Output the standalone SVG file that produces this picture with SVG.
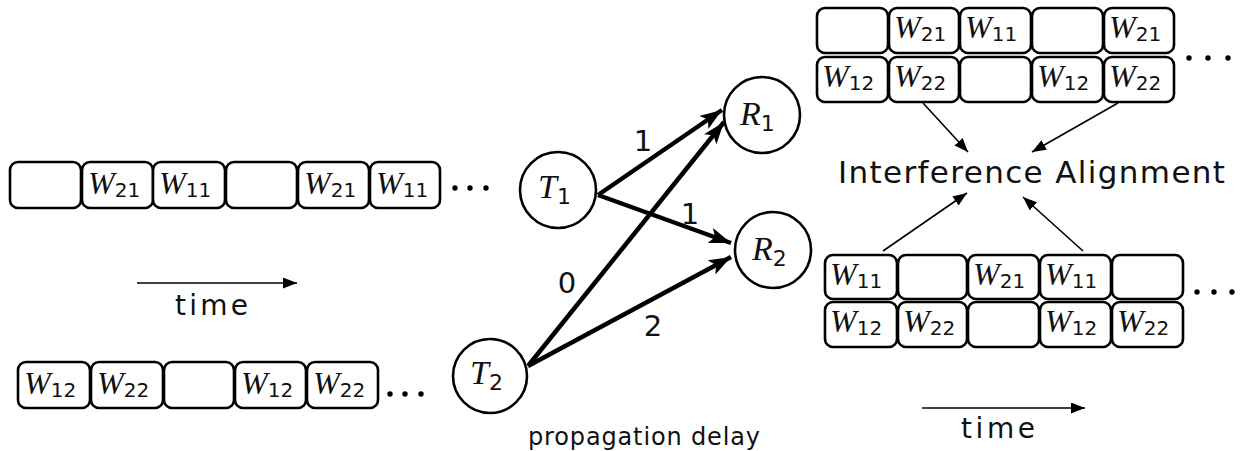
<svg xmlns="http://www.w3.org/2000/svg" width="1248" height="451" viewBox="0 0 1248 451">
<style>
.box{fill:#fff;stroke:#000;stroke-width:2.6}
.node{fill:#fff;stroke:#000;stroke-width:2.6}
.w{font-family:"Liberation Serif",serif;font-style:italic;font-size:32px;fill:#111}
.sub{font-family:"DejaVu Sans",sans-serif;font-style:normal;font-size:20px}
.lab{font-family:"DejaVu Sans",sans-serif;font-size:29px;fill:#111}
.txt{font-family:"DejaVu Sans",sans-serif;font-size:28px;fill:#111}
.heavy{stroke:#000;stroke-width:4.5;fill:none}
.thin{stroke:#000;stroke-width:1.6;fill:none}
.dot{fill:#000}
</style>
<defs>
<marker id="big" markerUnits="userSpaceOnUse" markerWidth="24" markerHeight="18" refX="22" refY="8" orient="auto">
<path d="M0,0 L22,8 L0,16 L5,8 z" fill="#000"/>
</marker>
<marker id="small" markerUnits="userSpaceOnUse" markerWidth="16" markerHeight="12" refX="14" refY="5.5" orient="auto">
<path d="M0,0 L14,5.5 L0,11 z" fill="#000"/>
</marker>
</defs>

<g id="row-t1">
<rect class="box" x="10" y="162" width="71" height="46" rx="8"/>
<rect class="box" x="82" y="162" width="71" height="46" rx="8"/>
<rect class="box" x="153" y="162" width="72" height="46" rx="8"/>
<rect class="box" x="226" y="162" width="71" height="46" rx="8"/>
<rect class="box" x="298" y="162" width="71" height="46" rx="8"/>
<rect class="box" x="370" y="162" width="70" height="46" rx="8"/>
<text class="w" x="88" y="194">W<tspan class="sub" dy="3">21</tspan></text>
<text class="w" x="159" y="194">W<tspan class="sub" dy="3">11</tspan></text>
<text class="w" x="304" y="194">W<tspan class="sub" dy="3">21</tspan></text>
<text class="w" x="376" y="194">W<tspan class="sub" dy="3">11</tspan></text>
<circle class="dot" cx="455" cy="188" r="2.7"/>
<circle class="dot" cx="470" cy="188" r="2.7"/>
<circle class="dot" cx="486" cy="188" r="2.7"/>
</g>

<g id="row-t2">
<rect class="box" x="18" y="362" width="72" height="46" rx="8"/>
<rect class="box" x="91" y="362" width="72" height="46" rx="8"/>
<rect class="box" x="164" y="362" width="70" height="46" rx="8"/>
<rect class="box" x="235" y="362" width="71" height="46" rx="8"/>
<rect class="box" x="307" y="362" width="71" height="46" rx="8"/>
<text class="w" x="24" y="394">W<tspan class="sub" dy="3">12</tspan></text>
<text class="w" x="97" y="394">W<tspan class="sub" dy="3">22</tspan></text>
<text class="w" x="241" y="394">W<tspan class="sub" dy="3">12</tspan></text>
<text class="w" x="313" y="394">W<tspan class="sub" dy="3">22</tspan></text>
<circle class="dot" cx="390" cy="394" r="2.7"/>
<circle class="dot" cx="405" cy="394" r="2.7"/>
<circle class="dot" cx="421" cy="394" r="2.7"/>
</g>

<g id="grid-r1">
<rect class="box" x="817" y="8" width="71" height="45" rx="8"/>
<rect class="box" x="889" y="8" width="70" height="45" rx="8"/>
<rect class="box" x="960" y="8" width="71" height="45" rx="8"/>
<rect class="box" x="1032" y="8" width="71" height="45" rx="8"/>
<rect class="box" x="1104" y="8" width="70" height="45" rx="8"/>
<rect class="box" x="817" y="57" width="71" height="45" rx="8"/>
<rect class="box" x="889" y="57" width="70" height="45" rx="8"/>
<rect class="box" x="960" y="57" width="71" height="45" rx="8"/>
<rect class="box" x="1032" y="57" width="71" height="45" rx="8"/>
<rect class="box" x="1104" y="57" width="70" height="45" rx="8"/>
<text class="w" x="894" y="38">W<tspan class="sub" dy="3">21</tspan></text>
<text class="w" x="965" y="38">W<tspan class="sub" dy="3">11</tspan></text>
<text class="w" x="1109" y="38">W<tspan class="sub" dy="3">21</tspan></text>
<text class="w" x="822" y="87">W<tspan class="sub" dy="3">12</tspan></text>
<text class="w" x="894" y="87">W<tspan class="sub" dy="3">22</tspan></text>
<text class="w" x="1037" y="87">W<tspan class="sub" dy="3">12</tspan></text>
<text class="w" x="1109" y="87">W<tspan class="sub" dy="3">22</tspan></text>
<circle class="dot" cx="1189" cy="58" r="2.7"/>
<circle class="dot" cx="1208" cy="58" r="2.7"/>
<circle class="dot" cx="1228" cy="58" r="2.7"/>
</g>

<g id="grid-r2">
<rect class="box" x="825" y="255" width="72" height="44" rx="8"/>
<rect class="box" x="898" y="255" width="69" height="44" rx="8"/>
<rect class="box" x="968" y="255" width="71" height="44" rx="8"/>
<rect class="box" x="1040" y="255" width="71" height="44" rx="8"/>
<rect class="box" x="1112" y="255" width="71" height="44" rx="8"/>
<rect class="box" x="825" y="302" width="72" height="45" rx="8"/>
<rect class="box" x="898" y="302" width="69" height="45" rx="8"/>
<rect class="box" x="968" y="302" width="71" height="45" rx="8"/>
<rect class="box" x="1040" y="302" width="71" height="45" rx="8"/>
<rect class="box" x="1112" y="302" width="71" height="45" rx="8"/>
<text class="w" x="830" y="285">W<tspan class="sub" dy="3">11</tspan></text>
<text class="w" x="973" y="285">W<tspan class="sub" dy="3">21</tspan></text>
<text class="w" x="1045" y="285">W<tspan class="sub" dy="3">11</tspan></text>
<text class="w" x="830" y="332">W<tspan class="sub" dy="3">12</tspan></text>
<text class="w" x="903" y="332">W<tspan class="sub" dy="3">22</tspan></text>
<text class="w" x="1045" y="332">W<tspan class="sub" dy="3">12</tspan></text>
<text class="w" x="1117" y="332">W<tspan class="sub" dy="3">22</tspan></text>
<circle class="dot" cx="1197" cy="292" r="2.7"/>
<circle class="dot" cx="1214" cy="292" r="2.7"/>
<circle class="dot" cx="1232" cy="292" r="2.7"/>
</g>

<g id="connectors">
<line class="heavy" x1="598" y1="195" x2="722" y2="110" marker-end="url(#big)"/>
<line class="heavy" x1="598" y1="195" x2="731" y2="243" marker-end="url(#big)"/>
<line class="heavy" x1="528" y1="366" x2="724" y2="122" marker-end="url(#big)"/>
<line class="heavy" x1="528" y1="366" x2="731" y2="257" marker-end="url(#big)"/>
<line class="thin" x1="923" y1="103" x2="968" y2="152" marker-end="url(#small)"/>
<line class="thin" x1="1118" y1="103" x2="1032" y2="152" marker-end="url(#small)"/>
<line class="thin" x1="883" y1="251" x2="967" y2="193" marker-end="url(#small)"/>
<line class="thin" x1="1083" y1="251" x2="1023" y2="197" marker-end="url(#small)"/>
<line class="thin" x1="137" y1="283" x2="297" y2="283" marker-end="url(#small)"/>
<line class="thin" x1="922" y1="408" x2="1085" y2="408" marker-end="url(#small)"/>
</g>

<g id="T1">
<circle class="node" cx="558" cy="190" r="38"/>
<text class="w" x="538" y="198" style="font-size:34px">T<tspan class="sub" dy="6" style="font-size:22px">1</tspan></text>
</g>
<g id="T2">
<circle class="node" cx="490" cy="376" r="37"/>
<text class="w" x="470" y="384" style="font-size:34px">T<tspan class="sub" dy="6" style="font-size:22px">2</tspan></text>
</g>
<g id="R1">
<circle class="node" cx="762" cy="115" r="38"/>
<text class="w" x="740" y="125" style="font-size:34px">R<tspan class="sub" dy="6" style="font-size:22px">1</tspan></text>
</g>
<g id="R2">
<circle class="node" cx="773" cy="250" r="38"/>
<text class="w" x="752" y="260" style="font-size:34px">R<tspan class="sub" dy="6" style="font-size:22px">2</tspan></text>
</g>

<g id="labels">
<text class="lab" x="643" y="151" text-anchor="middle">1</text>
<text class="lab" x="690" y="224" text-anchor="middle">1</text>
<text class="lab" x="567" y="293" text-anchor="middle">0</text>
<text class="lab" x="653" y="336" text-anchor="middle">2</text>
<text class="txt" x="838" y="183" style="font-size:31px" textLength="387" lengthAdjust="spacing">Interference Alignment</text>
<text class="txt" x="175" y="315" textLength="73" lengthAdjust="spacing">time</text>
<text class="txt" x="961" y="438" textLength="74" lengthAdjust="spacing">time</text>
<text class="txt" x="528" y="445" style="font-size:24px" textLength="232" lengthAdjust="spacing">propagation delay</text>
</g>
</svg>
